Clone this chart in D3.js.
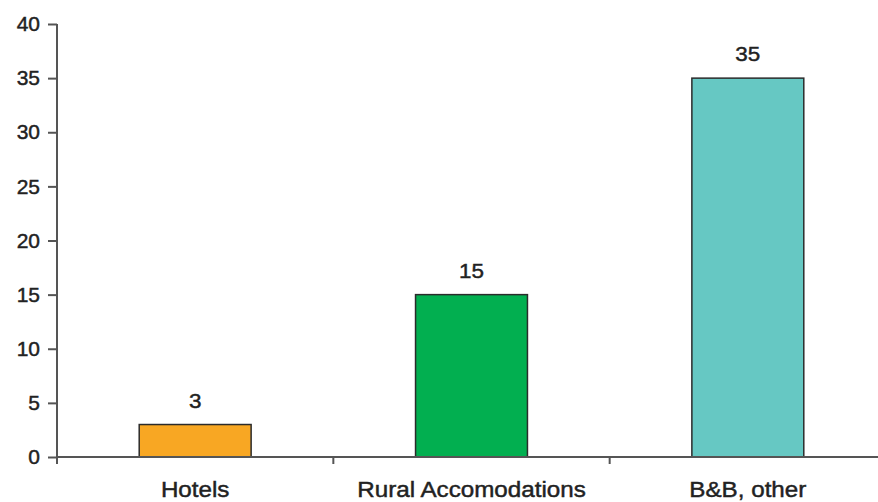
<!DOCTYPE html>
<html>
<head>
<meta charset="utf-8">
<script src="https://cdn.jsdelivr.net/npm/d3@7"></script>
<style>
  body { margin: 0; background: #fff; }
  text { font-family: "Liberation Sans", Arial, sans-serif; fill: #222; stroke: #222; stroke-width: 0.45px; }
</style>
</head>
<body>
<div id="chart"></div>
<script>
const categories = ["Hotels", "Rural Accomodations", "B&B, other"];
const values = [3, 15, 35];
const colors = ["#f8a723", "#02af50", "#66c8c3"];
const yTicks = [0, 5, 10, 15, 20, 25, 30, 35, 40];

var width = 878,
  height = 502,
  margin = { top: 24, right: -8, bottom: 45, left: 57 },
  iwidth = width - margin.left - margin.right,
  iheight = height - margin.top - margin.bottom;

var svg = d3.select("#chart") // create the SVG
  .append("svg")
  .attr("width", width)
  .attr("height", height)
  .append("g")
  .attr("transform", "translate(" + margin.left + "," + margin.top + ")");

var y = d3.scaleLinear() // y axis scale
  .domain([0, 40])
  .range([iheight, 0]);

const x = d3.scaleBand() // x axis scale
  .domain(categories)
  .range([0, iwidth])
  .padding(0);

const barW = x.bandwidth() * 0.405;

// bars
svg.selectAll("rect.bar")
  .data(values)
  .enter()
  .append("rect")
  .attr("class", "bar")
  .attr("x", (d, i) => x(categories[i]) + (x.bandwidth() - barW) / 2)
  .attr("y", d => y(d))
  .attr("width", barW)
  .attr("height", d => y(0) - y(d))
  .attr("fill", (d, i) => colors[i])
  .attr("stroke", "#2b2b2b")
  .attr("stroke-width", 1.5);

// value labels
svg.selectAll("text.val")
  .data(values)
  .enter()
  .append("text")
  .attr("class", "val")
  .attr("transform", (d, i) => "translate(" + (x(categories[i]) + x.bandwidth() / 2) + "," + (y(d) - 17) + ") scale(1.07,1)")
  .attr("text-anchor", "middle")
  .style("font-size", "21px")
  .text(d => d);

// Y axis
var yAxis = svg.append("g")
  .call(d3.axisLeft(y).tickValues(yTicks).tickSize(9).tickPadding(8));
yAxis.select(".domain").attr("stroke", "#555").attr("stroke-width", 2).attr("d", "M0," + iheight + "V0");
yAxis.selectAll(".tick line").attr("stroke", "#555").attr("stroke-width", 2);
yAxis.selectAll(".tick text")
  .style("font-size", "21px")
  .attr("fill", "#222");

// X axis
var xAxis = svg.append("g")
  .attr("transform", `translate(0,${iheight})`)
  .call(d3.axisBottom(x).tickSize(0).tickPadding(24));
xAxis.select(".domain").attr("stroke", "#555").attr("stroke-width", 2).attr("d", "M0,0H" + iwidth);
xAxis.selectAll(".tick text")
  .style("font-size", "22px")
  .attr("fill", "#222")
  .attr("dy", "0.71em")
  .attr("transform", "scale(1.1,1)");

// category separator ticks
svg.selectAll("line.sep")
  .data(categories)
  .enter()
  .append("line")
  .attr("class", "sep")
  .attr("x1", d => x(d))
  .attr("x2", d => x(d))
  .attr("y1", iheight)
  .attr("y2", iheight + 7)
  .attr("stroke", "#555")
  .attr("stroke-width", 2);
</script>
</body>
</html>
